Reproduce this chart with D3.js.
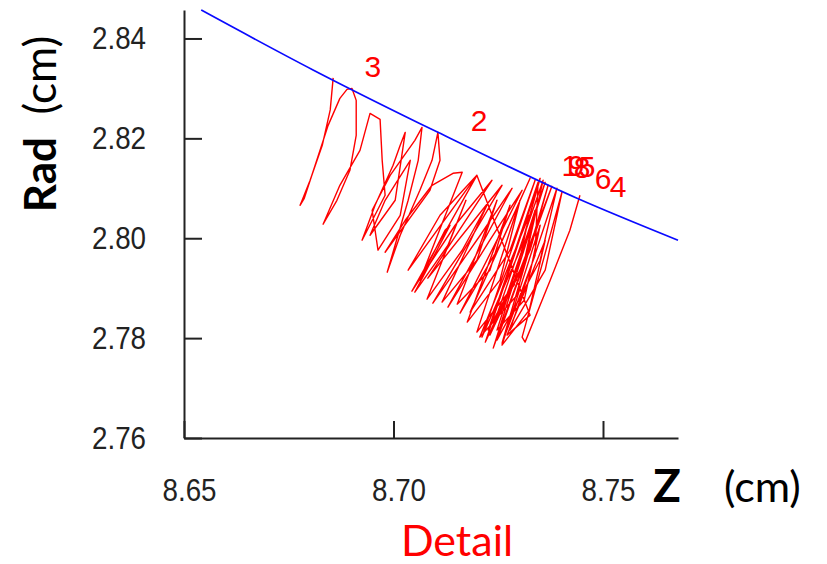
<!DOCTYPE html>
<html><head><meta charset="utf-8">
<script src="https://cdn.jsdelivr.net/npm/d3@7"></script>
<style>body{margin:0;background:#fff} svg{display:block}</style>
</head><body>
<svg id="c" width="827" height="564"></svg>
<script>
// ---- data ----
const xTicks = [8.65, 8.70, 8.75];
const yTicks = [2.76, 2.78, 2.80, 2.82, 2.84];

// boundary (blue)
const boundaryZ = [8.6541, 8.6808, 8.7106, 8.7438, 8.7679];
const boundaryR = [2.8457, 2.8337, 2.8212, 2.8080, 2.7996];

// trajectory (red)
const pathZ = [8.6856,8.6849,8.6830,8.6801,8.6782,8.6777,8.6787,8.6813,8.6844,8.6872,8.6889,8.6901,8.6911,8.6911,8.6896,8.6865,8.6832,8.6872,8.6920,8.6944,8.6968,8.6973,8.6980,8.6925,8.6956,8.6999,8.7016,8.7028,8.7004,8.6944,8.6980,8.7040,8.7016,8.6963,8.6949,8.6992,8.7051,8.7068,8.7059,8.7035,8.6985,8.7016,8.7063,8.7092,8.7106,8.7111,8.7087,8.6980,8.7028,8.7092,8.7142,8.7164,8.7063,8.7123,8.7135,8.7051,8.7130,8.7173,8.7080,8.7164,8.7223,8.7116,8.7199,8.7247,8.7152,8.7230,8.7278,8.7176,8.7254,8.7302,8.7199,8.7288,8.7324,8.7206,8.7295,8.7338,8.7247,8.7312,8.7350,8.7259,8.7324,8.7362,8.7271,8.7326,8.7199,8.7035,8.7111,8.7199,8.7044,8.7147,8.7235,8.7082,8.7183,8.7259,8.7094,8.7207,8.7283,8.7130,8.7230,8.7307,8.7159,8.7254,8.7326,8.7183,8.7278,8.7338,8.7211,8.7302,8.7350,8.7219,8.7266,8.7362,8.7238,8.7314,8.7357,8.7230,8.7326,8.7369,8.7259,8.7338,8.7345,8.7226,8.7302,8.7378,8.7247,8.7350,8.7390,8.7278,8.7362,8.7402,8.7307,8.7314,8.7374,8.7421,8.7445];
const pathR = [2.8321,2.8257,2.8186,2.8116,2.8076,2.8066,2.8080,2.8146,2.8226,2.8280,2.8298,2.8300,2.8276,2.8206,2.8136,2.8076,2.8028,2.8106,2.8176,2.8250,2.8238,2.8156,2.8086,2.7996,2.8066,2.8146,2.8186,2.8212,2.8076,2.8006,2.8076,2.8156,2.8046,2.7976,2.8056,2.8126,2.8196,2.8222,2.8156,2.8076,2.7932,2.8006,2.8096,2.8156,2.8212,2.8156,2.8096,2.7972,2.8036,2.8106,2.8130,2.8132,2.7916,2.8016,2.8026,2.7892,2.7986,2.8076,2.7878,2.7976,2.8066,2.7872,2.7956,2.8076,2.7868,2.7936,2.8066,2.7832,2.7916,2.8076,2.7812,2.7906,2.8046,2.7802,2.7886,2.8056,2.7816,2.7876,2.8026,2.7786,2.7856,2.7996,2.7806,2.7846,2.8126,2.7936,2.8046,2.8126,2.7894,2.8026,2.8116,2.7920,2.8026,2.8106,2.7870,2.8006,2.8100,2.7862,2.7996,2.8096,2.7850,2.7986,2.8120,2.7852,2.7976,2.8116,2.7802,2.7976,2.8120,2.7792,2.7876,2.8112,2.7780,2.7956,2.8116,2.7806,2.7976,2.8106,2.7790,2.7966,2.8112,2.7816,2.7936,2.8104,2.7796,2.7956,2.8100,2.7816,2.7936,2.8092,2.7802,2.7792,2.7916,2.8016,2.8086];

// hit labels
const hitLabels = ["3","2","1","9","8","5","6","4"];
const hitZ = [8.6951, 8.7204, 8.7421, 8.7436, 8.7450, 8.7462, 8.7500, 8.7536];
const hitR = [2.8323, 2.8214, 2.8124, 2.8124, 2.8120, 2.8122, 2.8098, 2.8082];

// ---- drawing ----
const svg = d3.select("#c");
const x = d3.scaleLinear().domain([8.65, 8.7679]).range([184, 678]);
const y = d3.scaleLinear().domain([2.76, 2.8457]).range([438, 10]);

const tickFont = "'Liberation Sans',Arial,sans-serif";

const yAxis = d3.axisLeft(y).tickValues(yTicks).tickFormat(d3.format(".2f"))
  .tickSizeInner(-18).tickSizeOuter(0).tickPadding(38);
const gy = svg.append("g").attr("transform", "translate(184,0)").call(yAxis);

const xAxis = d3.axisBottom(x).tickValues(xTicks).tickFormat(d3.format(".2f"))
  .tickSizeInner(-17).tickSizeOuter(0).tickPadding(40);
const gx = svg.append("g").attr("transform", "translate(0,438)").call(xAxis);

[gx, gy].forEach(g => {
  g.select(".domain").attr("stroke", "#222").attr("stroke-width", 2);
  g.selectAll(".tick line").attr("stroke", "#222").attr("stroke-width", 2);
  g.selectAll(".tick text").attr("font-family", tickFont).attr("font-size", 32).attr("fill", "#222")
    .attr("textLength", 54).attr("lengthAdjust", "spacingAndGlyphs");
});
gx.selectAll(".tick text").attr("dx", 5);

const line = d3.line().x(d => x(d[0])).y(d => y(d[1]));

svg.append("path")
  .datum(pathZ.map((z, i) => [z, pathR[i]]))
  .attr("d", line).attr("fill", "none").attr("stroke", "#ff0000")
  .attr("stroke-width", 1.4).attr("stroke-linejoin", "round");

svg.append("path")
  .datum(boundaryZ.map((z, i) => [z, boundaryR[i]]))
  .attr("d", d3.line().x(d => x(d[0])).y(d => y(d[1])).curve(d3.curveMonotoneX))
  .attr("fill", "none").attr("stroke", "#0a0aff").attr("stroke-width", 1.7);

svg.append("g").selectAll("text").data(hitLabels).join("text")
  .attr("x", (d, i) => x(hitZ[i])).attr("y", (d, i) => y(hitR[i]))
  .attr("text-anchor", "middle")
  .attr("font-family", "'Liberation Sans',Arial,sans-serif").attr("font-size", 30)
  .attr("fill", "#ff0000").text(d => d);

const titleFont = "Lato,'Open Sans',sans-serif";
svg.append("text").attr("x", 653).attr("y", 502)
  .attr("font-family", titleFont).attr("font-size", 46).attr("font-weight", "bold")
  .attr("fill", "#000").text("Z");
svg.append("text").attr("x", 724).attr("y", 502)
  .attr("font-family", titleFont).attr("font-size", 43)
  .attr("fill", "#000").text("(cm)");
svg.append("text").attr("x", 457).attr("y", 556).attr("text-anchor", "middle")
  .attr("font-family", titleFont).attr("font-size", 43)
  .attr("fill", "#ff0000").text("Detail");

const yt = svg.append("text").attr("transform", "translate(56,124) rotate(-90)")
  .attr("text-anchor", "middle").attr("font-family", titleFont).attr("font-size", 44).attr("fill", "#000");
yt.append("tspan").attr("font-weight", "bold").text("Rad");
yt.append("tspan").text("\u00a0\u00a0(cm)");
</script>
</body></html>
